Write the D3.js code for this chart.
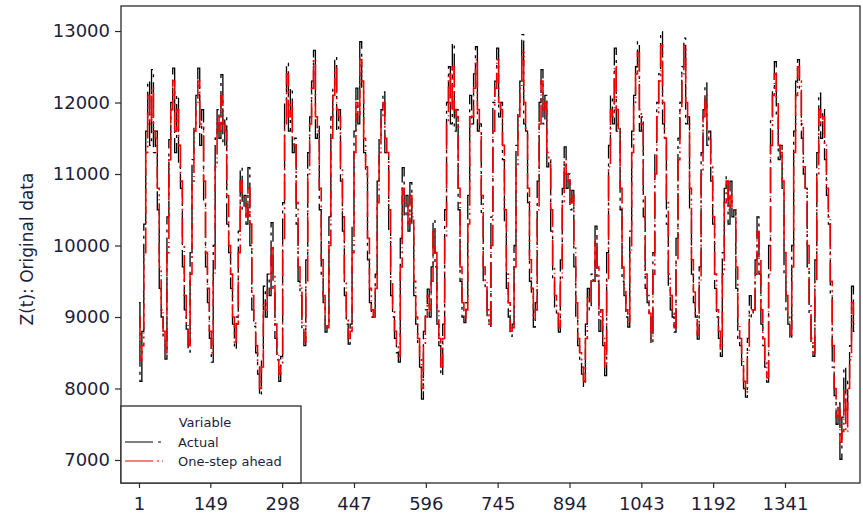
<!DOCTYPE html>
<html>
<head>
<meta charset="utf-8">
<script src="https://cdn.jsdelivr.net/npm/d3@7"></script>
<style>
  html, body { margin: 0; padding: 0; background: #ffffff; }
  svg { display: block; }
</style>
</head>
<body>
<svg id="chart" width="863" height="520"></svg>
<script>
// ---------------- DATA ----------------
// Half-hourly series, 31 days x 48 periods; values sampled every 4th period (12 per day).
const sampleStep = 4;
const xTickValues = [1, 149, 298, 447, 596, 745, 894, 1043, 1192, 1341];
const yTickValues = [7000, 8000, 9000, 10000, 11000, 12000, 13000];
const seriesNames = ["Actual", "One-step ahead"];
const legendTitle = "Variable";
const yAxisTitle = "Z(t): Original data";

const actual = [
  9200, 8100, 8800, 10300, 11600, 12300, 11400, 12460, 11300, 11600, 10500, 9400,
  9000, 8700, 8410, 10400, 11480, 12000, 12480, 11300, 12100, 11100, 10800, 9700,
  9100, 8830, 8510, 9900, 11200, 11700, 12100, 12480, 11400, 11900, 10600, 9700,
  9200, 8700, 8370, 10000, 11500, 11900, 11500, 12390, 11400, 11800, 10300, 9900,
  9400, 8900, 8550, 9000, 10200, 11090, 10500, 10700, 10300, 11090, 10000, 9100,
  8870, 8500, 8200, 7900, 8400, 9430, 9000, 9600, 9300, 10320, 9400, 8700,
  8400, 8100, 8450, 10600, 12000, 12550, 11600, 12200, 11300, 11500, 10300, 9500,
  9300, 8800, 8600, 9800, 11300, 11800, 12300, 12730, 11500, 11700, 10500, 9600,
  9200, 8790, 8900, 10400, 11800, 12200, 12640, 11600, 11900, 10900, 10200, 9300,
  8900, 8620, 8900, 10300, 11600, 12200, 11700, 12850, 12200, 11300, 11000, 9800,
  9200, 9000, 8970, 9600, 10900, 11500, 11900, 12150, 11300, 11300, 10200, 9300,
  9000, 8700, 8500, 8370, 10100, 11090, 10400, 10700, 10200, 10880, 10300, 9300,
  8900, 8600, 8300, 7850, 8800, 9100, 9390, 9000, 9700, 10360, 9700, 8900,
  8600, 8180, 8900, 10500, 12000, 12500, 11700, 12830, 11600, 11900, 10500, 9500,
  9000, 8920, 9200, 10700, 12100, 11700, 12400, 12780, 11600, 11700, 10400, 9500,
  9400, 9000, 8870, 10400, 12000, 12300, 12760, 11800, 12000, 11200, 10300, 9400,
  9000, 8730, 8900, 10000, 11400, 11900, 12300, 12950, 11700, 11600, 10600, 9500,
  9300, 8860, 9200, 10900, 12000, 12460, 11700, 12100, 11100, 11200, 10200, 9500,
  9100, 9000, 8790, 9800, 10800, 11380, 10800, 11000, 10500, 10770, 9700, 9000,
  8600, 8400, 8200, 8030, 8900, 9400, 9100, 9600, 9500, 10270, 9500, 8800,
  9000, 8600, 8180, 9900, 11400, 12100, 11700, 12760, 11600, 11700, 10500, 9500,
  9300, 9000, 8860, 10200, 11600, 12100, 12500, 12850, 11600, 11800, 10400, 9400,
  9200, 9000, 8620, 9900, 11300, 12000, 12400, 12990, 11700, 11500, 10300, 9400,
  9100, 9000, 8790, 10100, 11500, 12000, 12500, 12900, 11700, 11800, 10500, 9600,
  9200, 9000, 8690, 9700, 11300, 11900, 12270, 11400, 11600, 10900, 10300, 9400,
  9000, 8700, 8450, 9900, 10800, 10960, 10300, 10900, 10400, 10500, 9400, 8700,
  8600, 8300, 8000, 7880, 8700, 9300, 9000, 9100, 9800, 10400, 9600, 8900,
  8600, 8300, 8090, 10000, 11800, 12200, 12570, 11800, 11200, 11400, 10800, 9600,
  9100, 8900, 8690, 10000, 11600, 12300, 12600, 12200, 11500, 11000, 10800, 9700,
  9000, 8600, 8450, 9800, 11300, 12130, 11500, 11900, 11200, 10700, 10300, 9300,
  8300, 7900, 7500, 7800, 7010, 7600, 8300, 7700, 8100, 8600, 9430, 8800
];

const oneStepAhead = [
  9000, 8400, 8600, 9900, 11300, 12100, 11700, 12200, 11600, 11500, 10800, 9700,
  9100, 8800, 8500, 9900, 11200, 11900, 12300, 11600, 11900, 11400, 10900, 10000,
  9300, 8900, 8600, 9600, 10900, 11600, 12000, 12300, 11700, 11700, 10900, 9900,
  9400, 8800, 8500, 9600, 11100, 11800, 11600, 12100, 11700, 11600, 10700, 10000,
  9600, 9000, 8650, 8900, 9900, 10900, 10700, 10600, 10400, 10800, 10300, 9300,
  8950, 8600, 8300, 8000, 8300, 9200, 9100, 9400, 9400, 10000, 9600, 8900,
  8500, 8200, 8350, 10100, 11700, 12400, 11800, 12000, 11500, 11400, 10600, 9700,
  9400, 8900, 8650, 9500, 11000, 11700, 12200, 12600, 11800, 11600, 10800, 9800,
  9300, 8900, 8850, 10000, 11500, 12100, 12500, 11900, 11800, 11100, 10400, 9500,
  9000, 8700, 8800, 9900, 11300, 12000, 11800, 12600, 12300, 11500, 11100, 10100,
  9400, 9100, 9000, 9400, 10600, 11300, 11800, 12000, 11500, 11300, 10500, 9500,
  9100, 8800, 8600, 8450, 9700, 10800, 10600, 10600, 10300, 10700, 10400, 9500,
  9000, 8700, 8400, 8000, 8600, 9000, 9300, 9100, 9500, 10200, 9900, 9100,
  8700, 8300, 8700, 10100, 11700, 12400, 11900, 12500, 11900, 11800, 10800, 9700,
  9200, 8950, 9100, 10300, 11800, 11800, 12200, 12600, 11900, 11600, 10700, 9700,
  9500, 9100, 8900, 10000, 11600, 12200, 12600, 12000, 11900, 11400, 10500, 9600,
  9200, 8800, 8850, 9700, 11100, 11800, 12200, 12700, 12000, 11600, 10800, 9800,
  9400, 8950, 9100, 10500, 11700, 12300, 11900, 12000, 11300, 11200, 10500, 9700,
  9300, 9050, 8850, 9500, 10600, 11200, 11000, 10900, 10600, 10700, 10000, 9200,
  8700, 8500, 8300, 8100, 8700, 9300, 9200, 9500, 9500, 10100, 9700, 9000,
  9100, 8700, 8300, 9500, 11100, 11900, 11800, 12500, 11900, 11600, 10800, 9700,
  9400, 9100, 8900, 9900, 11300, 12000, 12400, 12700, 11900, 11700, 10700, 9600,
  9300, 9050, 8700, 9600, 11000, 11800, 12300, 12800, 12000, 11500, 10600, 9600,
  9300, 9050, 8850, 9800, 11200, 11900, 12400, 12800, 12000, 11700, 10800, 9800,
  9350, 9050, 8750, 9500, 11000, 11800, 12100, 11600, 11500, 11100, 10400, 9600,
  9100, 8800, 8550, 9600, 10600, 10900, 10500, 10700, 10500, 10500, 9700, 8900,
  8700, 8400, 8100, 7950, 8500, 9100, 9100, 9100, 9600, 10200, 9800, 9100,
  8700, 8400, 8150, 9600, 11400, 12100, 12400, 12000, 11400, 11300, 10900, 9900,
  9300, 9000, 8750, 9700, 11300, 12100, 12500, 12300, 11700, 11100, 10800, 10000,
  9200, 8700, 8500, 9500, 11000, 11900, 11700, 11800, 11400, 10800, 10400, 9500,
  8600, 8000, 7600, 7700, 7250, 7400, 8000, 7400, 8000, 8400, 9200, 8900
];

// ---------------- DRAWING ----------------
const svg = d3.select("#chart");
const frame = { left: 121, right: 860, top: 6, bottom: 483 };
const textColor = "#1e1e3a";
const fontFamily = "'DejaVu Sans', Verdana, sans-serif";

const x = d3.scaleLinear().domain([-36.3, 1496.6]).range([frame.left, frame.right]);
const y = d3.scaleLinear().domain([6678, 13350]).range([frame.bottom, frame.top]);

const toPoints = arr => arr.map((v, k) => ({ t: 1 + k * sampleStep, v }));
const line = d3.line().curve(d3.curveStep).x(d => x(d.t)).y(d => y(d.v));

svg.append("clipPath").attr("id", "clip")
  .append("rect").attr("x", frame.left).attr("y", frame.top)
  .attr("width", frame.right - frame.left).attr("height", frame.bottom - frame.top);

const plot = svg.append("g").attr("clip-path", "url(#clip)");

plot.append("path")
  .datum(toPoints(actual))
  .attr("fill", "none")
  .attr("stroke", "#000000")
  .attr("stroke-width", 1.3)
  .attr("stroke-dasharray", "26,5,3,5")
  .attr("d", line);

plot.append("path")
  .datum(toPoints(oneStepAhead))
  .attr("fill", "none")
  .attr("stroke", "#ee0000")
  .attr("stroke-width", 1.6)
  .attr("stroke-dasharray", "26,4,2,3,1,3")
  .attr("d", line);

// Frame
svg.append("rect")
  .attr("x", frame.left).attr("y", frame.top)
  .attr("width", frame.right - frame.left).attr("height", frame.bottom - frame.top)
  .attr("fill", "none").attr("stroke", "#2a2a2a").attr("stroke-width", 1.3);

// Y axis
const yAxis = svg.append("g")
  .attr("transform", `translate(${frame.left},0)`)
  .call(d3.axisLeft(y).tickValues(yTickValues).tickSize(6).tickPadding(5).tickFormat(d3.format("d")));
yAxis.select(".domain").remove();
yAxis.selectAll(".tick line").attr("stroke", "#2a2a2a").attr("stroke-width", 1.2);
yAxis.selectAll(".tick text")
  .attr("fill", textColor).style("font-family", fontFamily).style("font-size", "18px");

// X axis
const xAxis = svg.append("g")
  .attr("transform", `translate(0,${frame.bottom})`)
  .call(d3.axisBottom(x).tickValues(xTickValues).tickSize(5).tickPadding(9).tickFormat(d3.format("d")));
xAxis.select(".domain").remove();
xAxis.selectAll(".tick line").attr("stroke", "#2a2a2a").attr("stroke-width", 1.2);
xAxis.selectAll(".tick text")
  .attr("fill", textColor).style("font-family", fontFamily).style("font-size", "18px");

// Y axis title
svg.append("text")
  .attr("transform", "translate(33,249) rotate(-90)")
  .attr("text-anchor", "middle")
  .attr("fill", textColor)
  .style("font-family", fontFamily)
  .style("font-size", "17px")
  .text(yAxisTitle);

// Legend
const lg = svg.append("g");
lg.append("rect")
  .attr("x", frame.left).attr("y", 406)
  .attr("width", 180).attr("height", frame.bottom - 406)
  .attr("fill", "#ffffff").attr("stroke", "#2a2a2a").attr("stroke-width", 1.3);
lg.append("text")
  .attr("x", 205).attr("y", 427).attr("text-anchor", "middle")
  .attr("fill", textColor).style("font-family", fontFamily).style("font-size", "13px")
  .text(legendTitle);
const legendRows = [
  { name: seriesNames[0], color: "#000000", dash: "28,5,3,20", y: 442 },
  { name: seriesNames[1], color: "#ee0000", dash: "28,4,2,3,1,20", y: 461 }
];
legendRows.forEach(r => {
  lg.append("line")
    .attr("x1", 125).attr("x2", 165).attr("y1", r.y).attr("y2", r.y)
    .attr("stroke", r.color).attr("stroke-width", 1.2).attr("stroke-dasharray", r.dash);
  lg.append("text")
    .attr("x", 178).attr("y", r.y + 4.5)
    .attr("fill", textColor).style("font-family", fontFamily).style("font-size", "13px")
    .text(r.name);
});
</script>
</body>
</html>
